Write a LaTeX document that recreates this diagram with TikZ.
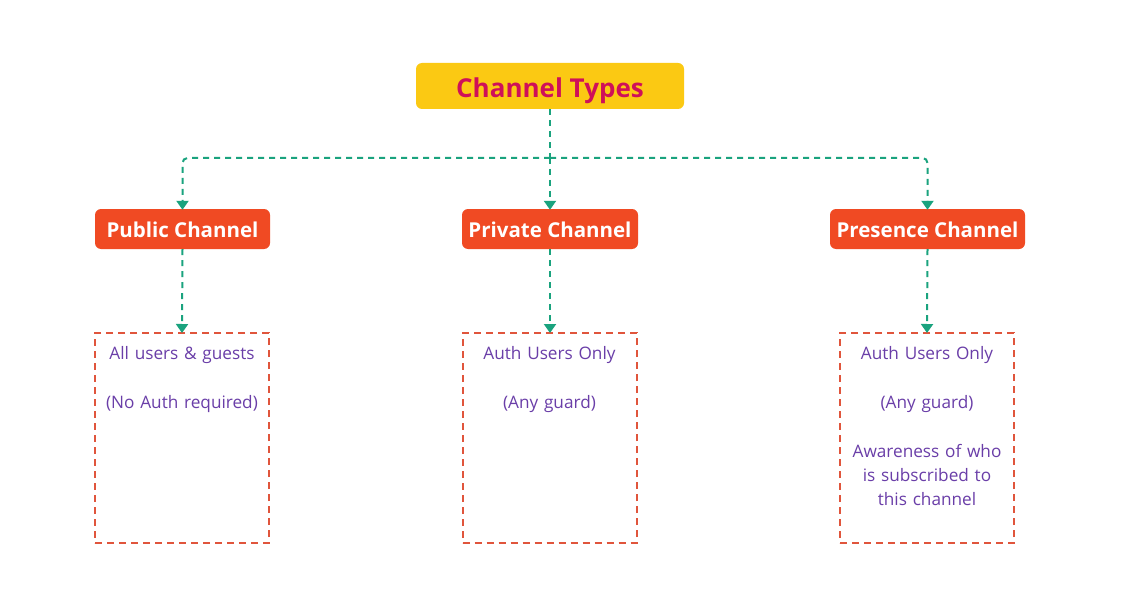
\documentclass[tikz,border=0pt]{standalone}
\usepackage{fontspec}
\setmainfont{Open Sans}
\usetikzlibrary{arrows.meta}
\definecolor{ttlyellow}{HTML}{FBC913}
\definecolor{ttltext}{HTML}{CF1059}
\definecolor{chred}{HTML}{F04A23}
\definecolor{conngreen}{HTML}{1AA37E}
\definecolor{boxred}{HTML}{E0553C}
\definecolor{txtpurple}{HTML}{6A3EA8}
\tikzset{
  titlebox/.style={fill=ttlyellow, rounded corners=6pt, minimum width=268pt, minimum height=46pt, text=ttltext, font=\fontsize{26}{30}\selectfont\bfseries, inner sep=0pt, text height=23pt, text depth=0pt},
  chbox/.style={fill=chred, rounded corners=6pt, minimum height=40pt, text=white, font=\fontsize{20.5}{24}\selectfont\bfseries, inner sep=0pt, text height=17.5pt, text depth=0pt},
  infobox/.style={draw=boxred, line width=2pt, dash pattern=on 7pt off 5pt, minimum width=174pt, minimum height=210pt, inner sep=0pt},
  infotext/.style={text=txtpurple, font=\fontsize{17.2}{24}\selectfont, align=center, text width=172pt, inner sep=0pt, anchor=north},
  conn/.style={draw=conngreen, line width=2pt, dash pattern=on 6pt off 5pt},
  arr/.style={conn, -{Triangle[width=12pt,length=9pt]}, shorten >=-1pt},
}
\begin{document}
\begin{tikzpicture}[x=1pt,y=-1pt]
\useasboundingbox (0,0) rectangle (1125,607);
\fill[white] (0,0) rectangle (1125,607);

\node[titlebox] (title) at (550,86) {Channel Types};

\node[chbox, minimum width=175pt] (pub) at (182.5,229) {Public Channel};
\node[chbox, minimum width=176pt] (priv) at (550,229) {Private Channel};
\node[chbox, minimum width=195pt] (pres) at (927.5,229) {Presence Channel};

\node[infobox] (pubd) at (182,438) {};
\node[infobox] (privd) at (549.5,438) {};
\node[infobox] (presd) at (927,438) {};

\node[infotext] (pubt) at (182,346.5) {All users \& guests\\[25pt](No Auth required)};
\node[infotext] (privt) at (549.5,346.5) {Auth Users Only\\[25pt](Any guard)};
\node[infotext] (prest) at (927,346.5) {Auth Users Only\\[25pt](Any guard)\\[25pt]Awareness of who\\is subscribed to\\this channel};

\coordinate (j) at (550,158);
\draw[conn] (title.south) -- (j);
\draw[arr, rounded corners=5pt] (j) -| (pub.north);
\draw[arr] (j) -- (priv.north);
\draw[arr, rounded corners=5pt] (j) -| (pres.north);

\draw[arr] (pub.south) -- (pubd.north);
\draw[arr] (priv.south) -- (privd.north -| priv.south);
\draw[arr] (pres.south) -- (presd.north);
\end{tikzpicture}
\end{document}
